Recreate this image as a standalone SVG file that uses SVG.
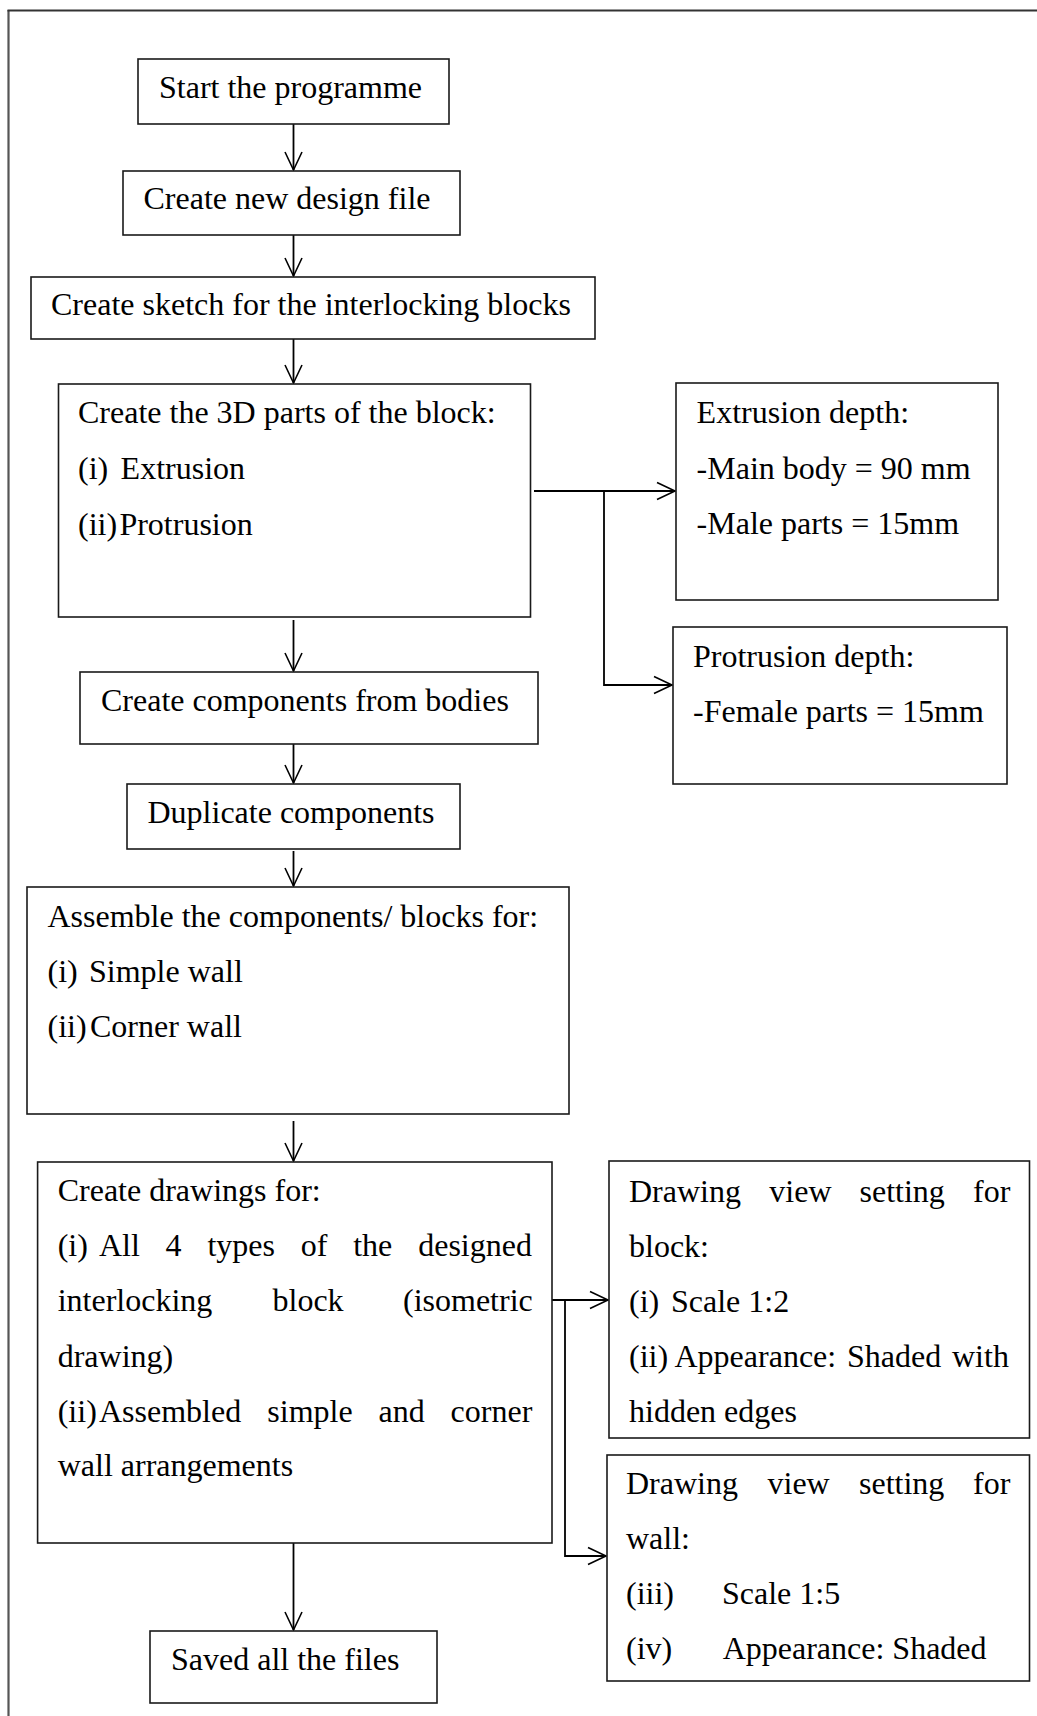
<svg xmlns="http://www.w3.org/2000/svg" width="1037" height="1716" viewBox="0 0 1037 1716">
<style>
.box{fill:#fff;stroke:#1a1a1a;stroke-width:1.6}
.t{font-family:"Liberation Serif","Times New Roman",serif;font-size:32px;fill:#000}
.c{fill:none;stroke:#000;stroke-width:1.8}
</style>
<defs>
<marker id="arr" markerWidth="22" markerHeight="20" viewBox="-20 -10 22 20" refX="0" refY="0" orient="auto" markerUnits="userSpaceOnUse">
<path d="M-18,-8.5 L0,0 L-18,8.5" fill="none" stroke="#000" stroke-width="1.6"/>
</marker>
</defs>
<rect width="1037" height="1716" fill="#fff"/>
<g id="frame">
<line x1="8.5" y1="10" x2="8.5" y2="1716" stroke="#555" stroke-width="2.2"/>
<line x1="7.5" y1="10.5" x2="1037" y2="10.5" stroke="#333" stroke-width="1.8"/>
</g>
<g id="connectors">
<path class="c" d="M293.5,124 V170" marker-end="url(#arr)"/>
<path class="c" d="M293.5,235 V276" marker-end="url(#arr)"/>
<path class="c" d="M293.5,339 V383" marker-end="url(#arr)"/>
<path class="c" d="M293.5,620 V671" marker-end="url(#arr)"/>
<path class="c" d="M293.5,744 V783" marker-end="url(#arr)"/>
<path class="c" d="M293.5,851 V886" marker-end="url(#arr)"/>
<path class="c" d="M293.5,1121 V1161" marker-end="url(#arr)"/>
<path class="c" d="M293.5,1543 V1630" marker-end="url(#arr)"/>
<path class="c" d="M534,491 H675" marker-end="url(#arr)"/>
<path class="c" d="M604,491 V685 H672" marker-end="url(#arr)"/>
<path class="c" d="M552,1300 H608" marker-end="url(#arr)"/>
<path class="c" d="M565,1300 V1556 H606" marker-end="url(#arr)"/>
</g>
<g id="start">
<rect class="box" x="138" y="59" width="311" height="65"/>
<text class="t" x="159" y="98">Start the programme</text>
</g>
<g id="new-design">
<rect class="box" x="123" y="171" width="337" height="64"/>
<text class="t" x="143.5" y="209">Create new design file</text>
</g>
<g id="sketch">
<rect class="box" x="31" y="277" width="564" height="62"/>
<text class="t" x="51" y="315">Create sketch for the interlocking blocks</text>
</g>
<g id="parts3d">
<rect class="box" x="58.5" y="384" width="472" height="233"/>
<text class="t" x="78" y="423">Create the 3D parts of the block:</text>
<text class="t" y="479"><tspan x="78">(i)</tspan><tspan x="120.6">Extrusion</tspan></text>
<text class="t" y="535"><tspan x="78">(ii)</tspan><tspan x="119.4">Protrusion</tspan></text>
</g>
<g id="extrusion">
<rect class="box" x="676" y="383" width="322" height="217"/>
<text class="t" x="696.6" y="423">Extrusion depth:</text>
<text class="t" x="696.6" y="478.5">-Main body = 90 mm</text>
<text class="t" x="696.6" y="534">-Male parts = 15mm</text>
</g>
<g id="protrusion">
<rect class="box" x="673" y="627" width="334" height="157"/>
<text class="t" x="693" y="667">Protrusion depth:</text>
<text class="t" x="693" y="722">-Female parts = 15mm</text>
</g>
<g id="components">
<rect class="box" x="80" y="672" width="458" height="72"/>
<text class="t" x="101" y="710.5">Create components from bodies</text>
</g>
<g id="duplicate">
<rect class="box" x="127" y="784" width="333" height="65"/>
<text class="t" x="147.5" y="823">Duplicate components</text>
</g>
<g id="assemble">
<rect class="box" x="27" y="887" width="542" height="227"/>
<text class="t" x="47.5" y="927">Assemble the components/ blocks for:</text>
<text class="t" y="982"><tspan x="47.5">(i)</tspan><tspan x="89">Simple wall</tspan></text>
<text class="t" y="1037"><tspan x="47.5">(ii)</tspan><tspan x="90">Corner wall</tspan></text>
</g>
<g id="drawings">
<rect class="box" x="37.6" y="1162" width="514.4" height="381"/>
<text class="t" x="57.7" y="1201">Create drawings for:</text>
<text class="t" y="1255.5"><tspan x="57.7">(i)</tspan><tspan x="98.9">All</tspan><tspan x="165.6">4</tspan><tspan x="207.4">types</tspan><tspan x="300.7">of</tspan><tspan x="353.2">the</tspan><tspan x="418.2">designed</tspan></text>
<text class="t" y="1310.5"><tspan x="57.7">interlocking</tspan><tspan x="272.5">block</tspan><tspan x="403">(isometric</tspan></text>
<text class="t" x="57.7" y="1366.5">drawing)</text>
<text class="t" y="1422"><tspan x="57.7">(ii)</tspan><tspan x="99">Assembled</tspan><tspan x="267.3">simple</tspan><tspan x="378.5">and</tspan><tspan x="450.6">corner</tspan></text>
<text class="t" x="57.7" y="1476">wall arrangements</text>
</g>
<g id="saved">
<rect class="box" x="150" y="1631" width="287" height="72"/>
<text class="t" x="171" y="1670">Saved all the files</text>
</g>
<g id="block-setting">
<rect class="box" x="609" y="1161" width="420.5" height="277"/>
<text class="t" y="1202"><tspan x="629">Drawing</tspan><tspan x="769.3">view</tspan><tspan x="859.5">setting</tspan><tspan x="973">for</tspan></text>
<text class="t" x="629" y="1257">block:</text>
<text class="t" y="1312"><tspan x="629">(i)</tspan><tspan x="671">Scale 1:2</tspan></text>
<text class="t" y="1367"><tspan x="629">(ii)</tspan><tspan x="674.5">Appearance:</tspan><tspan x="847">Shaded</tspan><tspan x="952">with</tspan></text>
<text class="t" x="629" y="1422">hidden edges</text>
</g>
<g id="wall-setting">
<rect class="box" x="607" y="1455" width="422.5" height="226"/>
<text class="t" y="1494"><tspan x="626">Drawing</tspan><tspan x="767.5">view</tspan><tspan x="859">setting</tspan><tspan x="973">for</tspan></text>
<text class="t" x="626" y="1549">wall:</text>
<text class="t" y="1604"><tspan x="626">(iii)</tspan><tspan x="722">Scale 1:5</tspan></text>
<text class="t" y="1659"><tspan x="626">(iv)</tspan><tspan x="722.7">Appearance: Shaded</tspan></text>
</g>
</svg>
